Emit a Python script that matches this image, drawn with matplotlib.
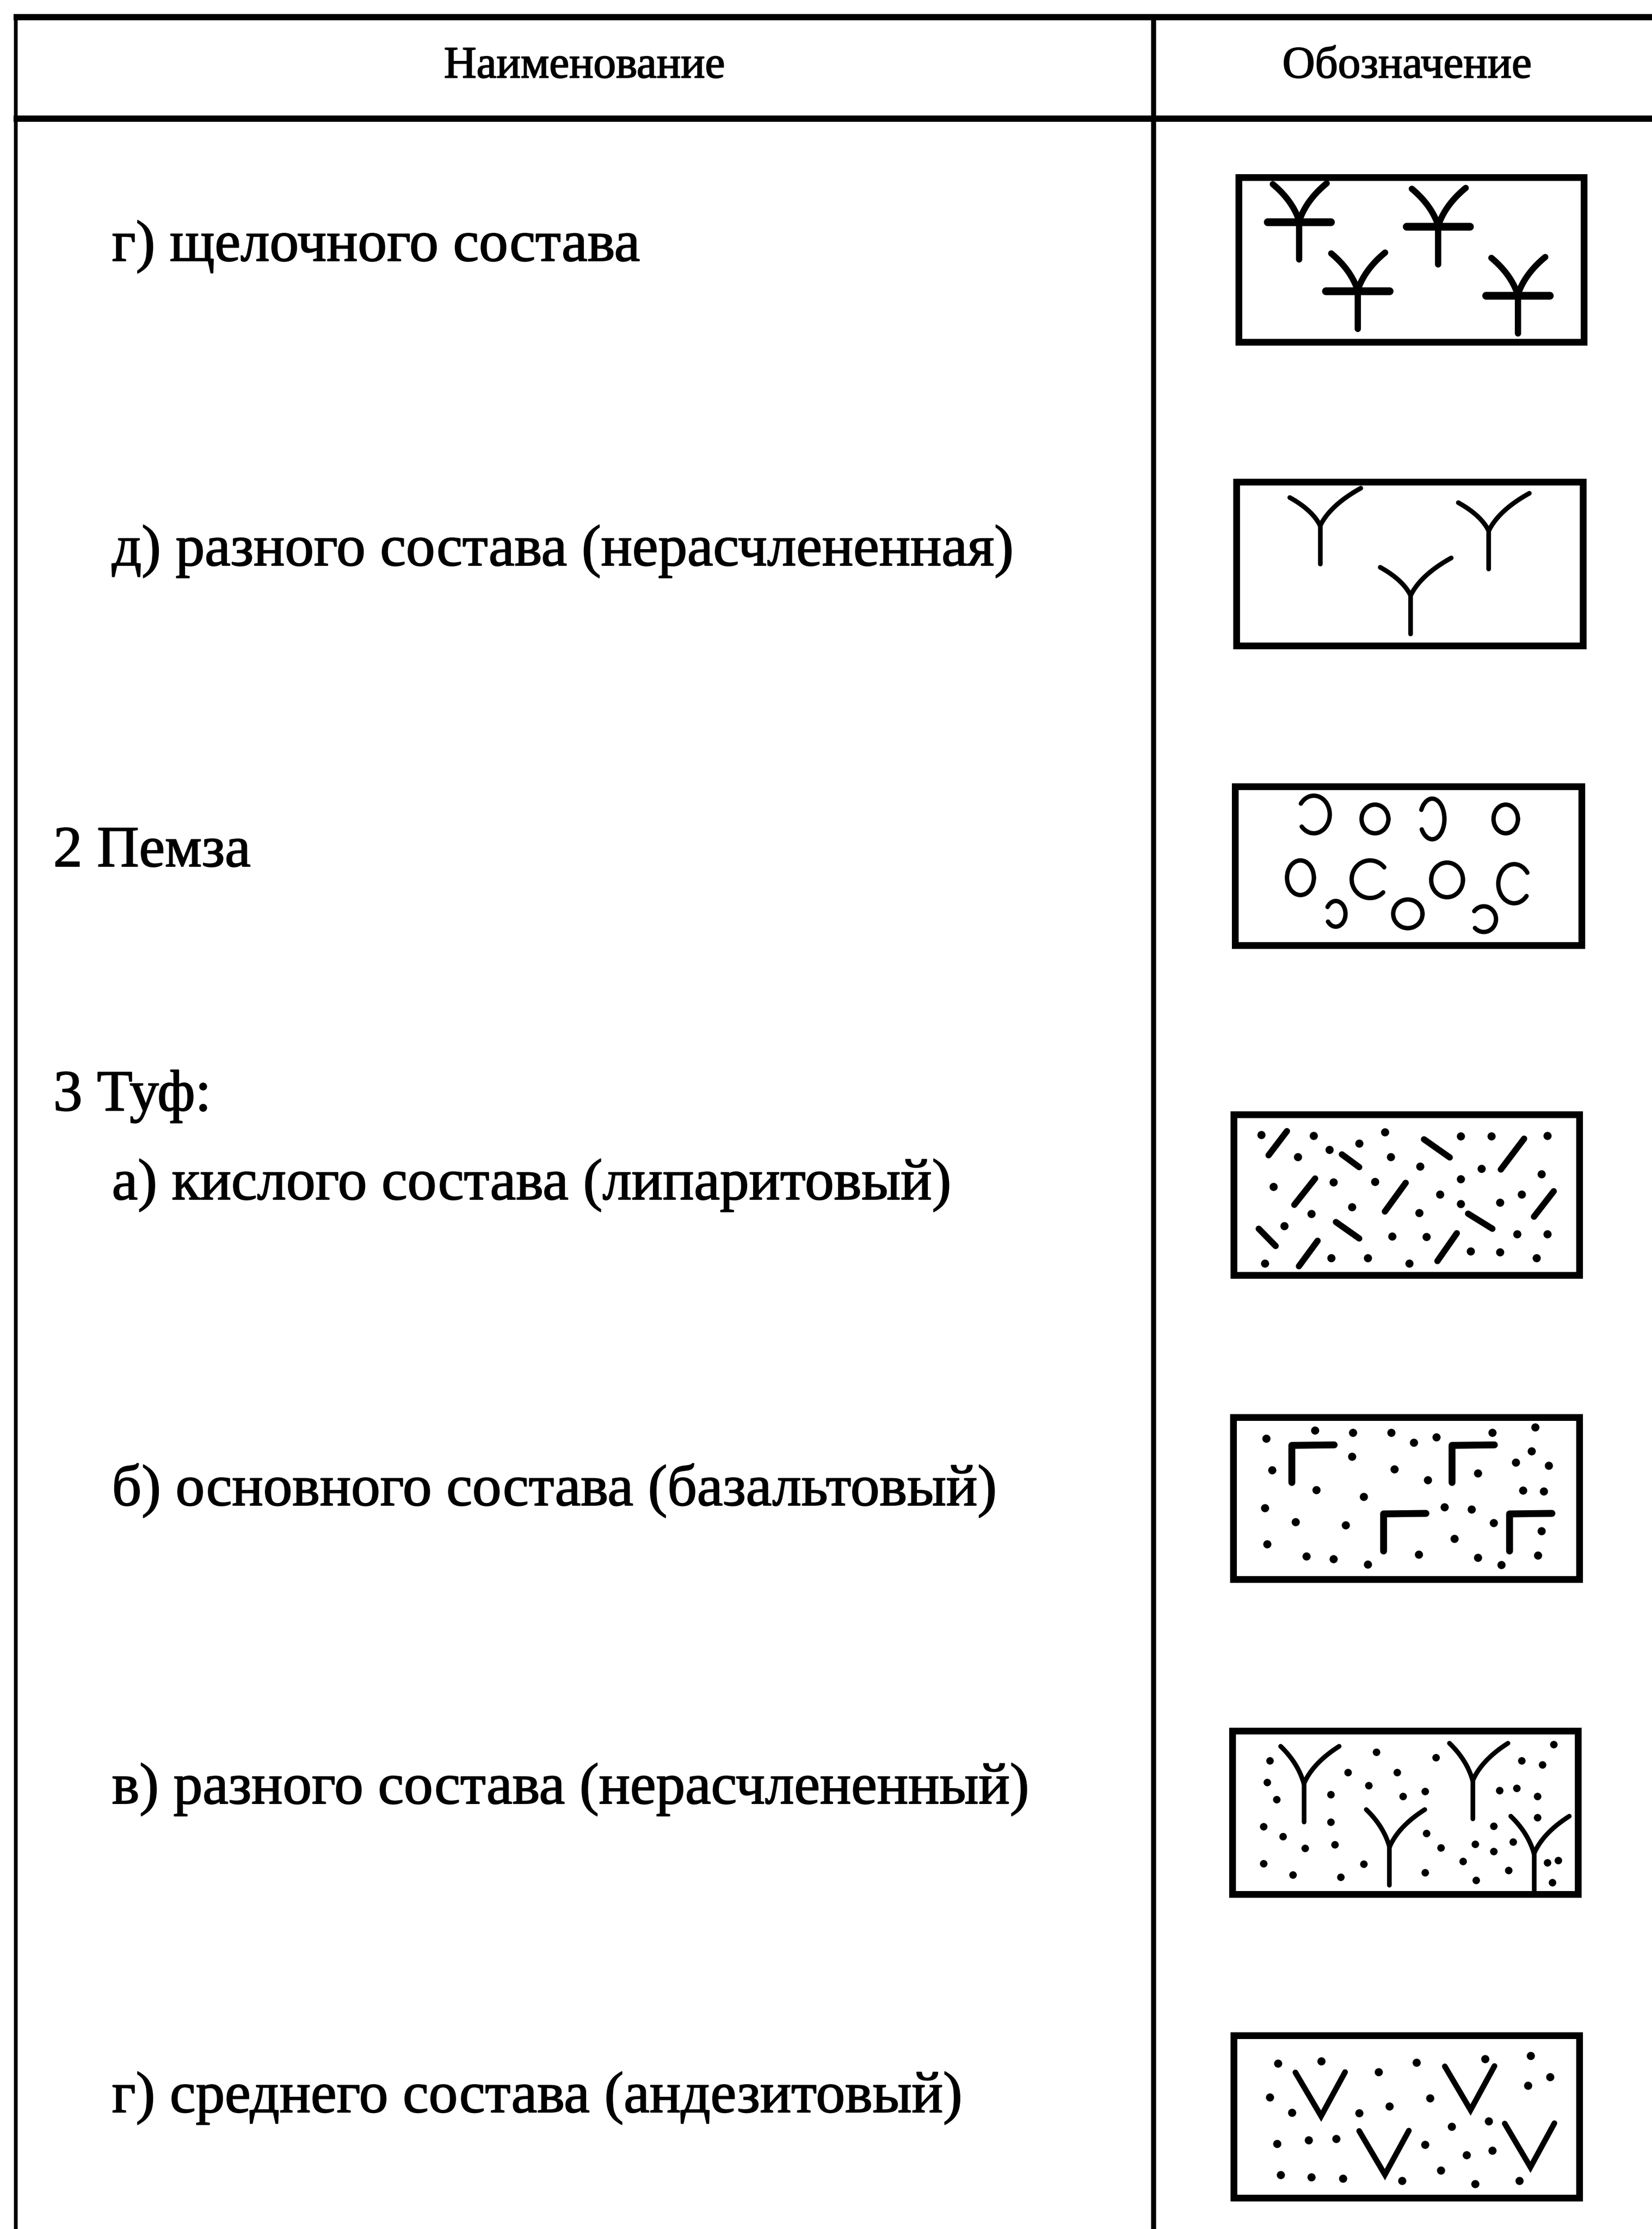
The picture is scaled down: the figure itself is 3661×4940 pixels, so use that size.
import numpy as np
import matplotlib
matplotlib.use("Agg")
import matplotlib.pyplot as plt
import matplotlib.patheffects as pe
from matplotlib.patches import Arc, Rectangle

# ---------------- text data ----------------
header_labels = ["Наименование", "Обозначение"]
row_labels = [
    "г) щелочного состава",
    "д) разного состава (нерасчлененная)",
    "2 Пемза",
    "3 Туф:",
    "а) кислого состава (липаритовый)",
    "б) основного состава (базальтовый)",
    "в) разного состава (нерасчлененный)",
    "г) среднего состава (андезитовый)",
]
row_indent = [1, 1, 0, 0, 1, 1, 1, 1]

# ---------------- symbol data (percent of box width / height) ----------------
# box 1: alkaline - crossed Y, junction points
alk_x = [18.1, 57.6, 34.7, 80.2]
alk_y = [27.6, 30.3, 68.0, 70.6]

# box 2: Y symbols, junction points
y2_x = [24.6, 72.3, 50.2]
y2_y = [27.8, 30.8, 68.7]

# box 3: pumice rings / arcs  (kind: o ring, C open right, D open left)
pum_kind = ["D", "o", "D", "o", "o", "C", "o", "C", "D", "o", "D"]
pum_x = [23.2, 40.5, 56.7, 77.5, 19.4, 39.1, 60.9, 79.9, 29.4, 49.8, 71.3]
pum_y = [19.1, 21.8, 21.8, 21.8, 57.3, 58.2, 58.6, 60.9, 79.1, 79.1, 82.3]
pum_w = [9.0, 7.6, 6.9, 6.9, 7.6, 10.4, 9.0, 9.0, 5.5, 8.3, 6.9]
pum_h = [22.7, 17.3, 24.5, 17.3, 20.9, 22.7, 20.9, 23.6, 15.5, 17.3, 15.5]

# box 4: acid tuff - dashes (start / end) and dots
dash4_x0 = [10.8, 31.6, 54.9, 76.7, 18.1, 43.8, 86.1, 67.4, 8.0, 29.9, 19.4, 58.7]
dash4_y0 = [26.5, 26.0, 17.0, 35.0, 56.1, 60.1, 63.2, 61.4, 70.4, 66.4, 92.8, 89.7]
dash4_x1 = [16.0, 36.5, 62.2, 83.3, 24.0, 49.7, 91.7, 74.3, 12.8, 36.5, 24.7, 64.2]
dash4_y1 = [12.1, 33.6, 27.8, 16.6, 40.4, 43.0, 48.0, 70.4, 80.7, 76.2, 77.6, 73.1]
dot4_x = [8.7, 23.6, 43.8, 36.5, 28.1, 19.1, 45.5, 65.3, 74.0, 89.9, 53.8, 71.2,
          88.2, 12.2, 29.2, 41.0, 65.3, 59.4, 82.6, 65.3, 76.4, 34.4, 22.9, 53.5,
          15.3, 45.8, 55.6, 81.3, 89.9, 68.1, 76.4, 86.8, 28.5, 38.9, 50.7, 9.7]
dot4_y = [14.3, 14.8, 12.6, 19.3, 23.3, 27.4, 27.4, 15.2, 15.2, 14.8, 33.2, 34.5,
          37.7, 45.3, 42.6, 42.2, 40.8, 49.8, 49.8, 55.6, 54.7, 57.4, 61.4, 61.0,
          68.6, 74.9, 75.3, 73.5, 73.5, 83.9, 84.3, 87.9, 87.9, 87.9, 91.0, 91.0]

# box 5: basalt tuff - corner marks and dots
gam_x = [17.5, 62.9, 43.5, 79.2]
gam_y = [18.8, 18.8, 59.4, 59.4]
dot5_x = [24.1, 34.8, 45.6, 74.3, 86.5, 10.2, 52.1, 58.4, 85.4, 34.5, 80.9, 90.3,
          11.9, 46.6, 70.2, 56.0, 24.4, 37.9, 83.0, 88.9, 9.8, 60.8, 68.4, 18.5,
          32.7, 74.7, 88.2, 63.6, 10.5, 21.6, 29.3, 39.0, 53.5, 70.2, 76.8, 87.2]
dot5_y = [9.8, 11.2, 11.2, 11.2, 8.0, 14.7, 17.0, 13.8, 22.3, 25.4, 29.0, 30.8,
          33.5, 33.0, 35.3, 39.3, 45.1, 49.1, 45.5, 46.0, 55.8, 55.4, 56.7, 64.3,
          66.1, 64.7, 69.6, 74.1, 77.2, 84.4, 86.2, 89.3, 83.5, 85.3, 89.7, 83.9]

# box 6: mixed tuff - Y symbols and dots
y6_x = [21.2, 45.5, 69.1, 86.5]
y6_y = [33.2, 70.4, 31.4, 74.3]
dot6_x = [11.5, 10.8, 13.5, 9.7, 15.3, 21.5, 9.7, 18.1, 31.6, 28.8, 28.8, 29.9,
          33.7, 39.6, 41.7, 47.6, 49.3, 55.6, 55.9, 38.2, 55.6, 58.7, 60.1, 66.3,
          70.1, 69.8, 75.0, 75.0, 79.2, 76.7, 81.6, 83.0, 88.9, 87.5, 87.5, 92.0,
          80.6, 90.3, 93.4, 91.7]
dot6_y = [19.5, 32.3, 42.5, 58.4, 64.2, 71.2, 80.1, 86.7, 88.1, 39.4, 55.8, 69.0,
          26.5, 34.1, 14.6, 26.5, 40.7, 37.6, 62.4, 80.5, 85.4, 17.7, 70.8, 78.8,
          89.8, 68.6, 58.0, 73.0, 84.1, 37.2, 35.8, 19.5, 22.1, 40.7, 53.1, 10.2,
          67.3, 79.6, 78.3, 91.2]

# box 7: andesite tuff - V symbols (bottom points) and dots
v7_x = [25.7, 68.1, 43.8, 85.1]
v7_y = [49.8, 46.2, 84.4, 80.0]
dot7_x = [13.5, 25.7, 52.8, 72.2, 85.1, 42.0, 90.6, 84.4, 11.1, 56.6, 45.1, 17.4,
          36.5, 62.8, 73.3, 13.2, 22.2, 29.9, 55.2, 67.0, 74.3, 59.7, 14.2, 22.9,
          31.9, 48.6, 69.4, 81.9]
dot7_y = [18.7, 17.3, 18.2, 16.0, 14.2, 23.6, 26.7, 31.6, 38.7, 39.1, 44.0, 47.6,
          48.0, 56.0, 52.9, 66.2, 64.0, 63.1, 66.7, 72.9, 70.2, 81.8, 84.4, 85.8,
          86.7, 88.0, 89.8, 88.0]

# ---------------- layout (pixels) ----------------
W, H = 3661, 4940
fig = plt.figure(figsize=(W / 100, H / 100), dpi=100)
ax = fig.add_axes([0, 0, 1, 1])
ax.set_xlim(0, W)
ax.set_ylim(H, 0)
ax.axis("off")

LEFT_X, DIV_X = 35, 2556
TOP_Y, HEAD_Y = 38, 263
TEXT_FONT = ["Liberation Serif", "DejaVu Serif"]
thick = [pe.withStroke(linewidth=1.6, foreground="black")]

# table rules
ax.plot([LEFT_X - 5, W], [TOP_Y, TOP_Y], color="black", lw=10, solid_capstyle="butt")
ax.plot([LEFT_X - 5, W], [HEAD_Y, HEAD_Y], color="black", lw=10, solid_capstyle="butt")
ax.plot([LEFT_X, LEFT_X], [TOP_Y, H], color="black", lw=6, solid_capstyle="butt")
ax.plot([DIV_X, DIV_X], [TOP_Y, H], color="black", lw=8, solid_capstyle="butt")

# header
ax.text(1295, 172, header_labels[0], fontsize=72, family=TEXT_FONT,
        ha="center", va="baseline", path_effects=thick)
ax.text(3118, 172, header_labels[1], fontsize=72, family=TEXT_FONT,
        ha="center", va="baseline", path_effects=thick)

# row texts
row_base = [578, 1253, 1920, 2461, 2658, 3336, 3997, 4681]
for lab, ind, yb in zip(row_labels, row_indent, row_base):
    xx = 248 if ind else 118
    ax.text(xx, yb, lab, fontsize=93, family=TEXT_FONT, ha="left", va="baseline",
            path_effects=thick)

# symbol boxes (outer edges)
boxes = [
    (2738, 385, 3518, 765),
    (2733, 1060, 3516, 1438),
    (2730, 1735, 3513, 2102),
    (2727, 2462, 3508, 2833),
    (2726, 3133, 3508, 3507),
    (2724, 3828, 3505, 4205),
    (2727, 4503, 3508, 4878),
]
BORDER = 15  # px

for (x0, y0, x1, y1) in boxes:
    ax.add_patch(Rectangle((x0 + BORDER / 2, y0 + BORDER / 2),
                           x1 - x0 - BORDER, y1 - y0 - BORDER,
                           fill=False, lw=BORDER * 0.72, ec="black",
                           joinstyle="miter"))


def mapper(box):
    x0, y0, x1, y1 = box
    def f(u, v):
        return x0 + np.asarray(u) / 100.0 * (x1 - x0), y0 + np.asarray(v) / 100.0 * (y1 - y0)
    return f


def qcurve(p0, c, p1, n=24):
    t = np.linspace(0, 1, n)[:, None]
    p0, c, p1 = map(np.asarray, (p0, c, p1))
    return (1 - t) ** 2 * p0 + 2 * (1 - t) * t * c + t ** 2 * p1


def draw_y(f, jx, jy, left, right, stem, lw, bar=None):
    J = np.array(f(jx, jy))
    L = np.array(f(jx + left[0], jy + left[1]))
    R = np.array(f(jx + right[0], jy + right[1]))
    S = np.array(f(jx + stem[0], jy + stem[1]))
    cL = J + np.array([0.25 * (L[0] - J[0]), 0.55 * (L[1] - J[1])])
    cR = J + np.array([0.25 * (R[0] - J[0]), 0.55 * (R[1] - J[1])])
    for P, C in ((L, cL), (R, cR)):
        pts = qcurve(J, C, P)
        ax.plot(pts[:, 0], pts[:, 1], color="black", lw=lw, solid_capstyle="round")
    ax.plot([J[0], S[0]], [J[1], S[1]], color="black", lw=lw, solid_capstyle="round")
    if bar is not None:
        B0 = f(jx - bar, jy + 0.5)
        B1 = f(jx + bar, jy + 0.5)
        ax.plot([B0[0], B1[0]], [B0[1], B1[1]], color="black", lw=lw * 1.25,
                solid_capstyle="round")


# box 1: alkaline
f = mapper(boxes[0])
for jx, jy in zip(alk_x, alk_y):
    draw_y(f, jx, jy, (-7.5, -21.5), (7.8, -22.0), (0, 22.5), lw=10, bar=9.0)

# box 2: Y symbols
f = mapper(boxes[1])
for jx, jy in zip(y2_x, y2_y):
    draw_y(f, jx, jy, (-8.6, -16.5), (11.5, -22.0), (0, 22.5), lw=7.5)

# box 3: pumice
f = mapper(boxes[2])
bw = boxes[2][2] - boxes[2][0]
bh = boxes[2][3] - boxes[2][1]
for k, px, py, pw, ph in zip(pum_kind, pum_x, pum_y, pum_w, pum_h):
    cx, cy = f(px, py)
    if k == "o":
        t1, t2 = 0, 360
    elif k == "C":
        t1, t2 = 45, 320
    else:
        t1, t2 = -140, 135
    ax.add_patch(Arc((cx, cy), pw / 100 * bw, ph / 100 * bh, theta1=t1, theta2=t2,
                     lw=7, color="black", capstyle="round"))

# box 4: acid tuff
f = mapper(boxes[3])
for a, b, c, d in zip(dash4_x0, dash4_y0, dash4_x1, dash4_y1):
    p0 = f(a, b)
    p1 = f(c, d)
    ax.plot([p0[0], p1[0]], [p0[1], p1[1]], color="black", lw=10, solid_capstyle="round")
dx, dy = f(dot4_x, dot4_y)
ax.plot(dx, dy, "o", color="black", ms=13, mew=0)

# box 5: basalt tuff
f = mapper(boxes[4])
for gx, gy in zip(gam_x, gam_y):
    c = f(gx, gy)
    r = f(gx + 12.0, gy - 0.3)
    b = f(gx, gy + 22.0)
    ax.plot([r[0], c[0], b[0]], [r[1], c[1], b[1]], color="black", lw=11,
            solid_capstyle="round", solid_joinstyle="round")
dx, dy = f(dot5_x, dot5_y)
ax.plot(dx, dy, "o", color="black", ms=13, mew=0)

# box 6: mixed tuff
f = mapper(boxes[5])
for jx, jy in zip(y6_x, y6_y):
    draw_y(f, jx, jy, (-6.6, -22.0), (10.0, -22.0), (0, 22.5), lw=7.5)
dx, dy = f(dot6_x, dot6_y)
ax.plot(dx, dy, "o", color="black", ms=12, mew=0)

# box 7: andesite tuff
f = mapper(boxes[6])
for vx, vy in zip(v7_x, v7_y):
    l = f(vx - 7.3, vy - 25.8)
    b = f(vx, vy)
    r = f(vx + 6.8, vy - 26.0)
    ax.plot([l[0], b[0], r[0]], [l[1], b[1], r[1]], color="black", lw=9,
            solid_capstyle="round", solid_joinstyle="miter")
dx, dy = f(dot7_x, dot7_y)
ax.plot(dx, dy, "o", color="black", ms=13, mew=0)

fig.savefig("out.png", dpi=100, facecolor="white")
